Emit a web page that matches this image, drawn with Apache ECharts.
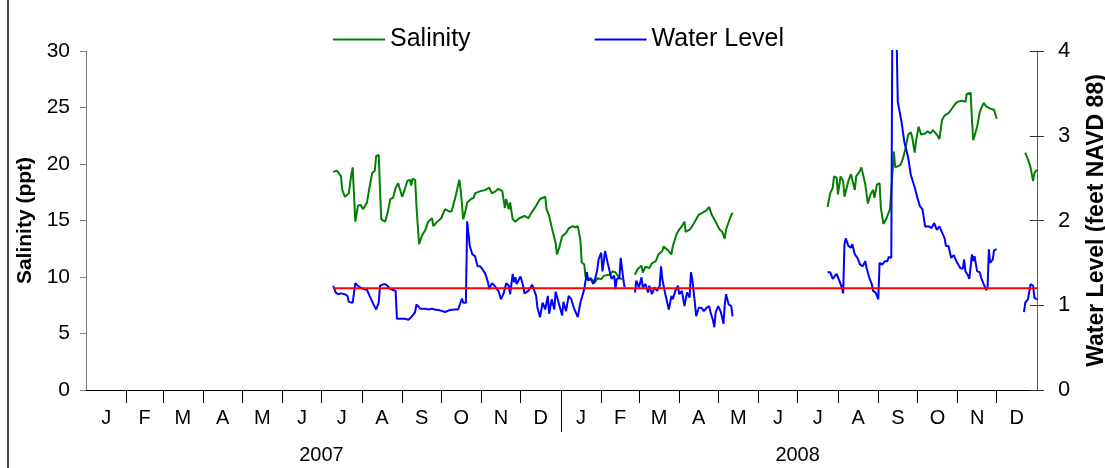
<!DOCTYPE html>
<html>
<head>
<meta charset="utf-8">
<title>Salinity and Water Level</title>
<script src="https://cdn.jsdelivr.net/npm/echarts@6/dist/echarts.min.js"></script>
<style>
    html, body { margin: 0; padding: 0; background: #fff; }
    #chart { width: 1105px; height: 468px; }
</style>
</head>
<body>
<div id="chart"></div>
<script>
// x values are days counted from 1 Jan 2007; null marks a gap in the record
const monthLetters = ['J', 'F', 'M', 'A', 'M', 'J', 'J', 'A', 'S', 'O', 'N', 'D']
const years = [2007, 2008]

const salDays = [
    190, 193, 196, 197, 199, 202, 204, 205, 207, 209, 211, 213, 216, 218, 220, 222, 223, 225, 226, 227,
    230, 232, 234, 236, 238, 240, 241, 243, 244, 247, 249, 250, 251, 253, 254, 256, 258, 261, 263, 266,
    267, 270, 273, 276, 279, 281, 284, 287, 288, 290, 292, 293, 296, 298, 299, 303, 307, 310, 312, 315,
    317, 320, 322, 323, 325, 326, 328, 330, 333, 337, 340, 343, 346, 349, 353, 354, 356, 358, 361, 362,
    364, 366, 369, 371, 374, 376, 378, 380, 381, 383, 384, 385, 388, 391, 393, 396, 398, 402, 405, 407,
    410, 412, 417,
    422, 424, 427, 428, 430, 433, 435, 438, 440, 443, 444, 447, 450, 451, 454, 456, 458, 460, 461, 464,
    466, 469, 471, 474, 477, 479, 481, 484, 487, 489, 491, 492, 495, 497, 530,
    570, 572, 574, 575, 577, 578, 580, 582, 583, 586, 588, 591, 592, 595, 596, 599, 601, 603, 605, 606,
    608, 610, 611, 613, 615, 618, 619, 621, 622, 626, 628, 630, 632, 634, 635, 637, 638, 640, 642, 645,
    647, 649, 651, 654, 656, 658, 660, 663, 665, 668, 670, 673, 676, 677, 680, 681, 682, 683, 685, 687,
    688, 690, 692, 695, 698, 700, 710,
    722, 724, 725, 726, 728, 729, 731
]
const salinity = [
    19.3, 19.4, 18.9, 17.7, 17.1, 17.4, 19.1, 19.7, 14.9, 16.3, 16.4, 16.0, 16.6, 18.0, 19.2, 19.4, 20.7, 20.8, 17.7, 15.1,
    14.9, 15.8, 16.9, 17.0, 17.9, 18.3, 18.4, 17.1, 17.4, 18.5, 18.6, 18.1, 18.7, 18.6, 16.3, 12.9, 13.6, 14.2, 14.9, 15.2,
    14.5, 14.9, 15.2, 16.0, 15.8, 15.8, 17.1, 18.6, 17.7, 15.1, 16.0, 16.6, 16.9, 17.0, 17.4, 17.6, 17.7, 17.9, 17.4, 17.6,
    17.8, 17.6, 16.1, 16.9, 16.0, 16.6, 15.1, 14.9, 15.2, 15.4, 15.2, 15.8, 16.3, 16.9, 17.1, 16.0, 15.4, 14.4, 13.0, 12.0,
    12.7, 13.6, 13.9, 14.3, 14.5, 14.4, 14.5, 13.3, 11.3, 11.1, 10.0, 9.8, 9.9, 9.5, 9.9, 9.8, 10.1, 10.2, 10.5, 10.4,
    9.9, 9.8, null,
    10.2, 10.7, 11.0, 10.4, 10.9, 10.8, 11.2, 11.4, 12.0, 12.3, 12.7, 12.4, 12.0, 12.7, 13.8, 14.2, 14.5, 14.9, 14.0, 14.2,
    14.5, 15.1, 15.5, 15.7, 15.9, 16.2, 15.5, 14.9, 14.2, 14.0, 13.4, 14.2, 15.2, 15.7, null,
    16.2, 17.4, 17.9, 18.9, 18.8, 17.3, 18.9, 18.5, 17.1, 18.5, 19.1, 17.7, 18.9, 19.4, 19.7, 18.2, 16.5, 17.3, 17.7, 17.0,
    18.2, 18.3, 16.1, 14.7, 15.1, 16.0, 16.1, 21.1, 19.7, 19.9, 20.5, 21.4, 22.6, 22.8, 22.4, 21.0, 22.0, 23.3, 22.6, 22.7,
    22.9, 22.7, 23.0, 22.6, 22.2, 23.9, 24.3, 24.5, 24.8, 25.3, 25.5, 25.6, 25.5, 26.2, 26.3, 23.9, 22.1, 22.1, 23.3, 24.6,
    24.9, 25.4, 25.1, 24.9, 24.8, 24.0, null,
    21.0, 20.4, 20.1, 19.7, 18.5, 19.2, 19.5
]

const wlDays = [
    190, 192, 194, 196, 199, 201, 202, 205, 207, 209, 212, 216, 218, 221, 223, 225, 226, 229, 231, 234,
    236, 238, 239, 241, 245, 248, 250, 253, 254, 257, 261, 263, 266, 268, 272, 276, 279, 283, 286, 289,
    290, 292, 293, 295, 296, 297, 299, 301, 303, 305, 307, 309, 310, 312, 314, 317, 319, 321, 323, 325,
    326, 328, 329, 330, 331, 334, 336, 337, 340, 343, 346, 347, 349, 351, 353, 355, 356, 358, 360, 361,
    364, 366, 367, 369, 371, 373, 375, 378, 380, 383, 385, 386, 388, 390, 392, 393, 394, 396, 397, 399,
    401, 403, 404, 406, 407, 408, 410, 411, 413, 414, 418,
    422, 423, 425, 427, 428, 430, 432, 433, 435, 437, 439, 441, 442, 443, 445, 446, 448, 450, 451, 453,
    455, 456, 458, 460, 462, 464, 465, 466, 468, 469, 471, 473, 475, 477, 479, 480, 482, 483, 484, 486,
    488, 490, 491, 492, 494, 496, 497, 530,
    570, 572, 574, 575, 577, 579, 581, 582, 583, 584, 586, 588, 589, 591, 593, 595, 597, 599, 600, 602,
    604, 605, 607, 609, 610, 612, 614, 616, 617, 619, 620, 622, 623, 624, 627, 629, 632, 634, 637, 639,
    641, 643, 645, 648, 650, 652, 654, 656, 658, 660, 661, 663, 665, 667, 669, 670, 672, 674, 675, 676,
    678, 679, 681, 682, 683, 685, 687, 688, 690, 692, 693, 694, 695, 697, 698, 700, 710,
    721, 722, 724, 725, 726, 728, 729, 731
]
const waterLevel = [
    1.23, 1.15, 1.13, 1.14, 1.13, 1.11, 1.04, 1.03, 1.26, 1.23, 1.20, 1.18, 1.11, 1.01, 0.95, 1.03, 1.23, 1.25, 1.24, 1.19,
    1.18, 1.17, 0.84, 0.84, 0.84, 0.83, 0.86, 0.92, 1.01, 0.96, 0.96, 0.95, 0.96, 0.95, 0.94, 0.92, 0.94, 0.95, 0.95, 1.08,
    1.03, 1.03, 1.99, 1.70, 1.68, 1.60, 1.58, 1.46, 1.46, 1.42, 1.37, 1.27, 1.19, 1.26, 1.23, 1.17, 1.07, 1.14, 1.26, 1.23,
    1.13, 1.37, 1.27, 1.33, 1.25, 1.34, 1.23, 1.14, 1.17, 1.24, 1.11, 0.97, 0.86, 1.03, 0.95, 1.11, 0.90, 1.07, 0.95, 1.16,
    0.99, 0.88, 1.04, 0.93, 1.11, 1.07, 0.97, 0.86, 1.03, 1.19, 1.39, 1.29, 1.31, 1.25, 1.35, 1.42, 1.54, 1.62, 1.40, 1.64,
    1.50, 1.37, 1.31, 1.35, 1.19, 1.31, 1.32, 1.56, 1.31, 1.21, null,
    1.15, 1.29, 1.21, 1.33, 1.21, 1.25, 1.15, 1.23, 1.13, 1.21, 1.17, 1.23, 1.46, 1.31, 1.15, 1.13, 0.95, 1.11, 1.07, 1.17,
    1.23, 1.13, 1.17, 0.99, 1.15, 1.09, 1.39, 1.31, 1.03, 0.87, 0.97, 0.97, 0.93, 0.97, 0.99, 0.92, 0.82, 0.74, 0.92, 0.99,
    0.92, 0.78, 1.01, 1.13, 1.01, 0.99, 0.87, null,
    1.39, 1.39, 1.31, 1.31, 1.37, 1.29, 1.21, 1.14, 1.72, 1.79, 1.70, 1.68, 1.72, 1.60, 1.56, 1.48, 1.46, 1.52, 1.44, 1.33,
    1.25, 1.17, 1.15, 1.07, 1.50, 1.48, 1.52, 1.52, 1.57, 1.56, 5.0, 5.2, 4.2, 3.40, 3.15, 2.93, 2.74, 2.54, 2.39, 2.27,
    2.17, 2.13, 1.93, 1.93, 1.91, 1.97, 1.89, 1.93, 1.86, 1.79, 1.70, 1.70, 1.56, 1.59, 1.52, 1.54, 1.44, 1.43, 1.54, 1.40,
    1.35, 1.31, 1.60, 1.52, 1.58, 1.40, 1.39, 1.33, 1.25, 1.18, 1.21, 1.66, 1.50, 1.54, 1.65, 1.66, null,
    0.92, 1.03, 1.07, 1.15, 1.25, 1.23, 1.09, 1.07
]

// salinity reference line (9 ppt) across the record
const refDays = [190, 731]
const refSalinity = [9, 9]

// month boundaries as day numbers from 1 Jan 2007
const start = Date.UTC(2007, 0, 1)
const monthBounds = []
for (let i = 0; i <= 24; i++) {
    monthBounds.push(Math.round((Date.UTC(2007, i, 1) - start) / 86400000))
}
const monthMids = monthBounds.slice(0, -1).map((d, i) => (d + monthBounds[i + 1]) / 2)
const yearMids = [monthBounds[6], monthBounds[18]]
const yearBreak = monthBounds[12]

function pairs(xs, ys) {
    return xs.map((x, i) => [x, ys[i] === null ? '-' : ys[i]])
}

function nearestIndex(list, v) {
    let best = 0
    list.forEach((m, i) => {
        if (Math.abs(m - v) < Math.abs(list[best] - v)) best = i
    })
    return best
}

const font = "'Liberation Sans', Arial, sans-serif"
const plot = { left: 86, right: 68, top: 51, bottom: 78, outerBoundsMode: 'none' }

const chart = echarts.init(document.getElementById('chart'))

const option = {
    backgroundColor: '#fff',
    animation: false,
    textStyle: { fontFamily: font },
    // second grid only carries the inner half of the right axis ticks
    grid: [plot, Object.assign({}, plot)],
    legend: {
        left: 328,
        top: 22,
        icon: 'rect',
        itemWidth: 52,
        itemHeight: 2,
        itemGap: 124,
        data: ['Salinity', 'Water Level'],
        textStyle: { fontSize: 25, color: '#000', fontFamily: font }
    },
    xAxis: [
        {
            type: 'value',
            gridIndex: 0,
            min: 0,
            max: 731,
            axisLine: { onZero: false, lineStyle: { color: '#000', width: 1 } },
            axisTick: {
                customValues: monthBounds.slice(1, -1).filter(d => d !== yearBreak),
                length: 13,
                lineStyle: { color: '#000' }
            },
            axisLabel: {
                customValues: monthMids,
                formatter: v => monthLetters[nearestIndex(monthMids, v) % 12],
                margin: 18,
                fontSize: 20,
                color: '#000',
                fontFamily: font
            },
            splitLine: { show: false }
        },
        {
            type: 'value',
            gridIndex: 0,
            min: 0,
            max: 731,
            position: 'bottom',
            axisLine: { show: false, onZero: false },
            axisTick: {
                customValues: [yearBreak],
                length: 42,
                lineStyle: { color: '#000' }
            },
            axisLabel: {
                customValues: yearMids,
                formatter: v => String(years[nearestIndex(yearMids, v)]),
                margin: 55,
                fontSize: 20,
                color: '#000',
                fontFamily: font
            },
            splitLine: { show: false }
        },
        {
            type: 'value',
            gridIndex: 1,
            min: 0,
            max: 731,
            show: false
        }
    ],
    yAxis: [
        {
            type: 'value',
            gridIndex: 0,
            position: 'left',
            min: 0,
            max: 30,
            interval: 5,
            name: 'Salinity (ppt)',
            nameLocation: 'middle',
            nameRotate: 90,
            nameGap: 50,
            nameTextStyle: { fontSize: 21, fontWeight: 'bold', color: '#000', fontFamily: font },
            axisLine: { show: true, onZero: false, lineStyle: { color: '#808080' } },
            axisTick: { show: true, length: 6, lineStyle: { color: '#808080' } },
            axisLabel: { fontSize: 21, margin: 16, color: '#000', fontFamily: font },
            splitLine: { show: false }
        },
        {
            type: 'value',
            gridIndex: 0,
            position: 'right',
            min: 0,
            max: 4,
            interval: 1,
            name: 'Water Level (feet NAVD 88)',
            nameLocation: 'middle',
            nameRotate: 90,
            nameGap: 48,
            nameTextStyle: { fontSize: 23, fontWeight: 'bold', color: '#000', fontFamily: font },
            axisLine: { show: true, onZero: false, lineStyle: { color: '#606060' } },
            axisTick: { show: true, length: 7, lineStyle: { color: '#303030' } },
            axisLabel: { fontSize: 22, margin: 21, color: '#000', fontFamily: font },
            splitLine: { show: false }
        },
        {
            type: 'value',
            gridIndex: 1,
            position: 'right',
            min: 0,
            max: 4,
            interval: 1,
            axisLine: { show: false, onZero: false },
            axisTick: { show: true, inside: true, length: 7, lineStyle: { color: '#303030' } },
            axisLabel: { show: false },
            splitLine: { show: false }
        }
    ],
    series: [
        {
            name: 'Salinity',
            type: 'line',
            xAxisIndex: 0,
            yAxisIndex: 0,
            data: pairs(salDays, salinity),
            showSymbol: false,
            connectNulls: false,
            lineStyle: { color: '#008000', width: 2 },
            itemStyle: { color: '#008000' }
        },
        {
            name: 'Water Level',
            type: 'line',
            xAxisIndex: 0,
            yAxisIndex: 1,
            data: pairs(wlDays, waterLevel),
            showSymbol: false,
            connectNulls: false,
            clip: true,
            lineStyle: { color: '#0000ff', width: 2 },
            itemStyle: { color: '#0000ff' }
        },
        {
            name: 'Reference',
            type: 'line',
            xAxisIndex: 0,
            yAxisIndex: 0,
            data: pairs(refDays, refSalinity),
            showSymbol: false,
            lineStyle: { color: '#ff0000', width: 2 },
            itemStyle: { color: '#ff0000' }
        }
    ],
    graphic: [
        {
            type: 'line',
            shape: { x1: 8, y1: 0, x2: 8, y2: 468 },
            style: { stroke: '#444', lineWidth: 2 }
        }
    ]
}

chart.setOption(option)
</script>
</body>
</html>
